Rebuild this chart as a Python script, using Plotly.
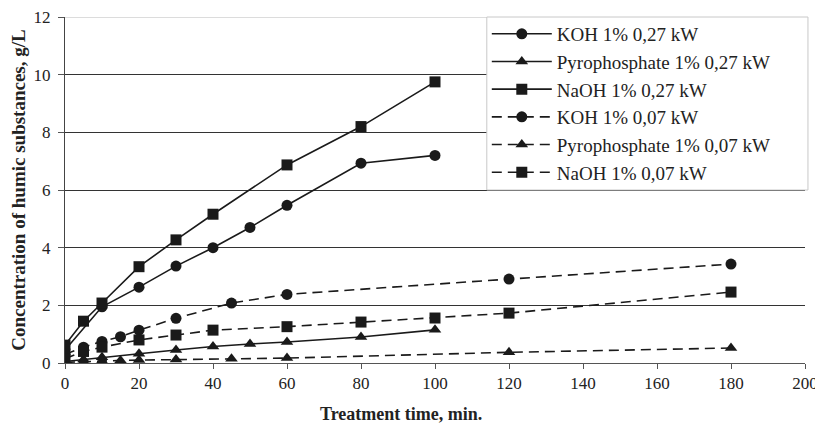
import plotly.graph_objects as go

# Treatment time (min) and concentration (g/L) per series
t_koh_027 = [0, 10, 20, 30, 40, 50, 60, 80, 100]
v_koh_027 = [0.45, 1.95, 2.63, 3.36, 4.0, 4.7, 5.47, 6.93, 7.2]

t_pyro_027 = [0, 5, 10, 20, 30, 40, 50, 60, 80, 100]
v_pyro_027 = [0.05, 0.12, 0.2, 0.32, 0.45, 0.57, 0.66, 0.73, 0.9, 1.15]

t_naoh_027 = [0, 5, 10, 20, 30, 40, 60, 80, 100]
v_naoh_027 = [0.62, 1.45, 2.08, 3.34, 4.27, 5.16, 6.87, 8.2, 9.75]

t_koh_007 = [0, 5, 10, 15, 20, 30, 45, 60, 120, 180]
v_koh_007 = [0.3, 0.55, 0.75, 0.91, 1.14, 1.55, 2.08, 2.38, 2.91, 3.43]

t_pyro_007 = [0, 5, 10, 15, 20, 30, 45, 60, 120, 180]
v_pyro_007 = [0.02, 0.05, 0.07, 0.09, 0.1, 0.12, 0.15, 0.17, 0.37, 0.52]

t_naoh_007 = [0, 5, 10, 20, 30, 40, 60, 80, 100, 120, 180]
v_naoh_007 = [0.15, 0.4, 0.55, 0.8, 0.97, 1.14, 1.26, 1.42, 1.56, 1.73, 2.46]

names = ["KOH 1% 0,27 kW", "Pyrophosphate 1% 0,27 kW", "NaOH 1% 0,27 kW",
         "KOH 1% 0,07 kW", "Pyrophosphate 1% 0,07 kW", "NaOH 1% 0,07 kW"]

x_ticks = [0, 20, 40, 60, 80, 100, 120, 140, 160, 180, 200]
y_ticks = [0, 2, 4, 6, 8, 10, 12]

series = [
    (t_koh_027, v_koh_027, "circle", "solid"),
    (t_pyro_027, v_pyro_027, "triangle-up", "solid"),
    (t_naoh_027, v_naoh_027, "square", "solid"),
    (t_koh_007, v_koh_007, "circle", "10px,6px"),
    (t_pyro_007, v_pyro_007, "triangle-up", "10px,6px"),
    (t_naoh_007, v_naoh_007, "square", "10px,6px"),
]

FONT = "Liberation Serif"
fig = go.Figure()
for (xs, ys, sym, dash), nm in zip(series, names):
    fig.add_trace(go.Scatter(
        x=xs, y=ys, name=nm, mode="lines+markers",
        line=dict(color="#1a1a1a", width=1.6, dash=dash),
        marker=dict(symbol=sym, size=11, color="#1a1a1a",
                    line=dict(width=0)),
    ))

# page body has an 8px default margin, so the figure is sized/offset accordingly
fig.update_layout(
    width=815, height=423,
    margin=dict(l=57, r=18, t=9, b=68, autoexpand=False),
    paper_bgcolor="white", plot_bgcolor="white",
    font=dict(family=FONT, size=17, color="#222"),
    showlegend=True,
    legend=dict(x=0.570, y=1.006, xanchor="left", yanchor="top",
                bgcolor="rgba(0,0,0,0)", borderwidth=0,
                font=dict(family=FONT, size=19, color="#222"),
                itemwidth=60, tracegroupgap=0, traceorder="normal"),
    xaxis=dict(range=[0, 200], tickvals=x_ticks, ticktext=[str(v) for v in x_ticks],
               showgrid=False, zeroline=False, showline=True, linecolor="#555",
               linewidth=1, ticks="outside", ticklen=5, tickcolor="#555",
               automargin=False, ticklabeloverflow="allow",
               tickfont=dict(family=FONT, size=17, color="#222")),
    yaxis=dict(range=[0, 12], tickvals=y_ticks, ticktext=[str(v) for v in y_ticks],
               showgrid=True, gridcolor="#333", gridwidth=1.2, zeroline=False,
               showline=True, linecolor="#444", linewidth=1,
               ticks="outside", ticklen=6, tickcolor="#555",
               ticklabelstandoff=4, ticklabeloverflow="allow",
               automargin=False,
               tickfont=dict(family=FONT, size=17, color="#222"),
               title=dict(text="<b>Concentration of humic substances, g/L</b>",
                          font=dict(family=FONT, size=19, color="#222"),
                          standoff=8)),
    shapes=[
        dict(type="line", xref="paper", yref="y", x0=0, x1=1, y0=12, y1=12,
             line=dict(color="#d0d0d0", width=1.5), layer="above"),
        # legend box background/frame
        dict(type="rect", xref="paper", yref="paper", x0=0.570, x1=1.004,
             y0=0.50, y1=1.0, fillcolor="white",
             line=dict(color="#c8c8c8", width=1), layer="above"),
    ],
    annotations=[dict(text="<b>Treatment time, min.</b>", xref="paper", yref="paper",
                      x=0.454, y=-0.112, xanchor="center", yanchor="top",
                      showarrow=False,
                      font=dict(family=FONT, size=18, color="#222"))],
)

fig.write_html("out.html")
